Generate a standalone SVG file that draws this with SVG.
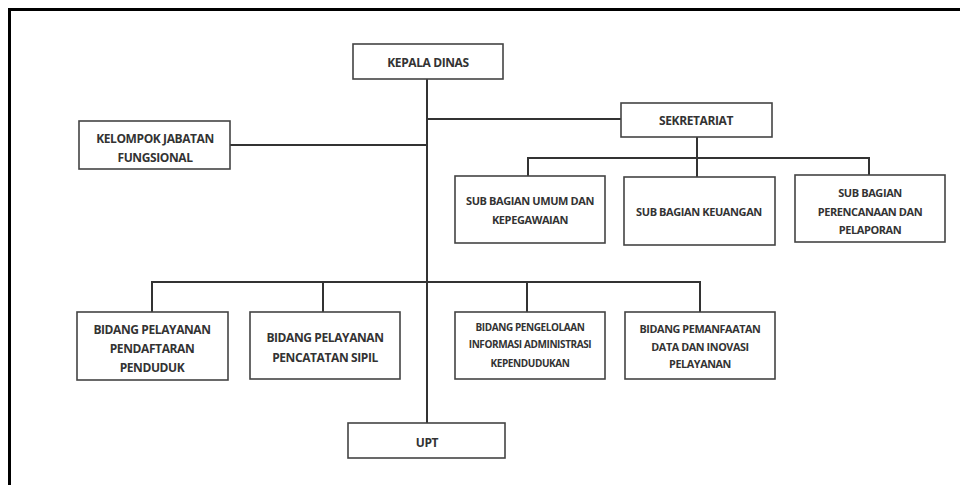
<svg xmlns="http://www.w3.org/2000/svg" width="960" height="485" viewBox="0 0 960 485">
<style>
.box{fill:#fff;stroke:#444;stroke-width:1.6}
.t{font-family:"Open Sans","Liberation Sans",sans-serif;font-weight:bold;font-size:12px;fill:#333;text-anchor:middle;dominant-baseline:central;letter-spacing:-0.4px}
.s{font-size:11px}
.m{font-size:10.8px}
.x{font-size:10px}
.ln{stroke:#333;stroke-width:2;fill:none}
.frame{stroke:#000;stroke-width:3;fill:none}
</style>
<rect width="960" height="485" fill="#fff"/>
<path class="frame" d="M9.5 485 V9.5 H960"/>
<g id="connectors">
<path class="ln" d="M427 79 V423"/>
<path class="ln" d="M230 145 H427"/>
<path class="ln" d="M427 119 H621"/>
<path class="ln" d="M697 137 V177"/>
<path class="ln" d="M528 176 V158 H869 V175"/>
<path class="ln" d="M152 312 V282 H700 V312"/>
<path class="ln" d="M323 282 V312"/>
<path class="ln" d="M527 282 V312"/>
</g>
<g id="kepala"><rect class="box" x="353" y="44" width="150" height="35"/><text class="t" x="428" y="62">KEPALA DINAS</text></g>
<g id="kelompok"><rect class="box" x="79" y="121" width="151" height="48"/><text class="t" x="155" y="138">KELOMPOK JABATAN</text><text class="t" x="155" y="157">FUNGSIONAL</text></g>
<g id="sekretariat"><rect class="box" x="621" y="103" width="151" height="34"/><text class="t" x="696" y="120">SEKRETARIAT</text></g>
<g id="sub-umum"><rect class="box" x="455" y="176" width="150" height="67"/><text class="t s" x="530" y="200">SUB BAGIAN UMUM DAN</text><text class="t s" x="530" y="219">KEPEGAWAIAN</text></g>
<g id="sub-keuangan"><rect class="box" x="624" y="177" width="151" height="68"/><text class="t s" x="699" y="211">SUB BAGIAN KEUANGAN</text></g>
<g id="sub-perencanaan"><rect class="box" x="795" y="175" width="150" height="67"/><text class="t s" x="870" y="192">SUB BAGIAN</text><text class="t s" x="870" y="211">PERENCANAAN DAN</text><text class="t s" x="870" y="229">PELAPORAN</text></g>
<g id="bidang-pendaftaran"><rect class="box" x="77" y="312" width="151" height="68"/><text class="t" x="152" y="329">BIDANG PELAYANAN</text><text class="t" x="152" y="348">PENDAFTARAN</text><text class="t" x="152" y="367">PENDUDUK</text></g>
<g id="bidang-pencatatan"><rect class="box" x="250" y="312" width="150" height="67"/><text class="t" x="325" y="337">BIDANG PELAYANAN</text><text class="t" x="325" y="357">PENCATATAN SIPIL</text></g>
<g id="bidang-pengelolaan"><rect class="box" x="455" y="312" width="150" height="67"/><text class="t x" x="530" y="327">BIDANG PENGELOLAAN</text><text class="t x" x="530" y="344">INFORMASI ADMINISTRASI</text><text class="t x" x="530" y="363">KEPENDUDUKAN</text></g>
<g id="bidang-pemanfaatan"><rect class="box" x="625" y="312" width="150" height="67"/><text class="t m" x="700" y="328">BIDANG PEMANFAATAN</text><text class="t m" x="700" y="346">DATA DAN INOVASI</text><text class="t m" x="700" y="363">PELAYANAN</text></g>
<g id="upt"><rect class="box" x="348" y="423" width="157" height="35"/><text class="t" x="427" y="442">UPT</text></g>
</svg>
